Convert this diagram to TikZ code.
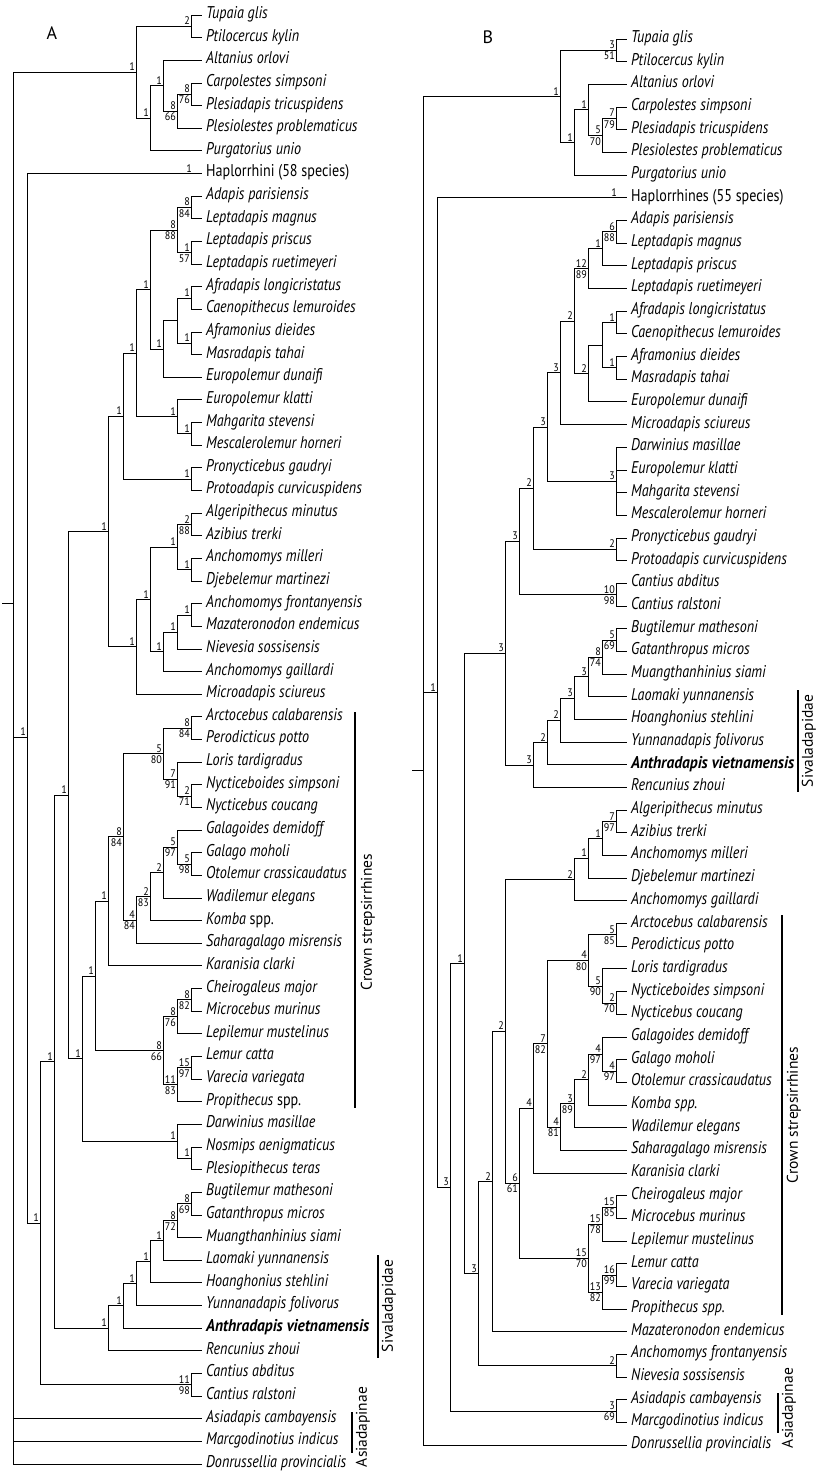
\documentclass[tikz,border=0pt]{standalone}
\usepackage{fontspec}
\setmainfont{PT Sans}
\newfontfamily\taxf[FakeStretch=0.83]{PT Sans}
\newfontfamily\taxb[FakeStretch=0.91]{PT Sans}
\newfontfamily\numf[FakeStretch=0.92]{PT Sans}
\usetikzlibrary{calc}
\tikzset{
  br/.style={line width=0.8pt,black},
  bk/.style={line width=1.2pt,black},
  leaf/.style={anchor=west,inner xsep=4pt,inner ysep=0pt,text height=0.7em,text depth=0pt,font=\taxf\itshape\fontsize{17}{17}\selectfont},
  supa/.style={anchor=south east,inner xsep=1pt,inner ysep=1.2pt,font=\numf\fontsize{11}{11}\selectfont},
  supb/.style={anchor=north east,inner xsep=1pt,inner ysep=1.6pt,font=\numf\fontsize{11}{11}\selectfont},
  clade/.style={rotate=90,anchor=center,inner sep=0pt,font=\fontsize{15.5}{15.5}\selectfont},
  panel/.style={inner sep=0pt,font=\fontsize{18}{18}\selectfont}
}
\newcommand\LA[3]{\node[leaf] (#1) at (202,{15+(#2-1)*22.64}) {#3};}
\newcommand\LB[3]{\node[leaf] (#1) at (627,{39+(#2-1)*22.68}) {#3};}
\newcommand\ND[4]{\path let \p1=($(#3)!0.5!(#4)$) in coordinate (#1) at (#2pt,\y1);}
\newcommand\EL[2]{\draw[br] (#1) |- (#2.west);}
\newcommand\EN[2]{\draw[br] (#1) |- (#2);}
\newcommand\SA[2]{\node[supa] (#1-a) at (#1) {#2};}
\newcommand\SB[2]{\node[supb] (#1-b) at (#1) {#2};}
\begin{document}
\begin{tikzpicture}[x=1pt,y=-1pt]
\useasboundingbox (0,0) rectangle (815,1473);
\node[panel] (pA) at (52,33) {A};
\node[panel] (pB) at (488,37) {B};
% ---------------- Tree A leaves
\LA{a1}{1}{Tupaia glis}
\LA{a2}{2}{Ptilocercus kylin}
\LA{a3}{3}{Altanius orlovi}
\LA{a4}{4}{Carpolestes simpsoni}
\LA{a5}{5}{Plesiadapis tricuspidens}
\LA{a6}{6}{Plesiolestes problematicus}
\LA{a7}{7}{Purgatorius unio}
\LA{a8}{8}{\upshape Haplorrhini (58 species)}
\LA{a9}{9}{Adapis parisiensis}
\LA{a10}{10}{Leptadapis magnus}
\LA{a11}{11}{Leptadapis priscus}
\LA{a12}{12}{Leptadapis ruetimeyeri}
\LA{a13}{13}{Afradapis longicristatus}
\LA{a14}{14}{Caenopithecus lemuroides}
\LA{a15}{15}{Aframonius dieides}
\LA{a16}{16}{Masradapis tahai}
\LA{a17}{17}{Europolemur dunaifi}
\LA{a18}{18}{Europolemur klatti}
\LA{a19}{19}{Mahgarita stevensi}
\LA{a20}{20}{Mescalerolemur horneri}
\LA{a21}{21}{Pronycticebus gaudryi}
\LA{a22}{22}{Protoadapis curvicuspidens}
\LA{a23}{23}{Algeripithecus minutus}
\LA{a24}{24}{Azibius trerki}
\LA{a25}{25}{Anchomomys milleri}
\LA{a26}{26}{Djebelemur martinezi}
\LA{a27}{27}{Anchomomys frontanyensis}
\LA{a28}{28}{Mazateronodon endemicus}
\LA{a29}{29}{Nievesia sossisensis}
\LA{a30}{30}{Anchomomys gaillardi}
\LA{a31}{31}{Microadapis sciureus}
\LA{a32}{32}{Arctocebus calabarensis}
\LA{a33}{33}{Perodicticus potto}
\LA{a34}{34}{Loris tardigradus}
\LA{a35}{35}{Nycticeboides simpsoni}
\LA{a36}{36}{Nycticebus coucang}
\LA{a37}{37}{Galagoides demidoff}
\LA{a38}{38}{Galago moholi}
\LA{a39}{39}{Otolemur crassicaudatus}
\LA{a40}{40}{Wadilemur elegans}
\LA{a41}{41}{Komba \upshape spp.}
\LA{a42}{42}{Saharagalago misrensis}
\LA{a43}{43}{Karanisia clarki}
\LA{a44}{44}{Cheirogaleus major}
\LA{a45}{45}{Microcebus murinus}
\LA{a46}{46}{Lepilemur mustelinus}
\LA{a47}{47}{Lemur catta}
\LA{a48}{48}{Varecia variegata}
\LA{a49}{49}{Propithecus \upshape spp.}
\LA{a50}{50}{Darwinius masillae}
\LA{a51}{51}{Nosmips aenigmaticus}
\LA{a52}{52}{Plesiopithecus teras}
\LA{a53}{53}{Bugtilemur mathesoni}
\LA{a54}{54}{Gatanthropus micros}
\LA{a55}{55}{Muangthanhinius siami}
\LA{a56}{56}{Laomaki yunnanensis}
\LA{a57}{57}{Hoanghonius stehlini}
\LA{a58}{58}{Yunnanadapis folivorus}
\LA{a59}{59}{\taxb\bfseries Anthradapis vietnamensis}
\LA{a60}{60}{Rencunius zhoui}
\LA{a61}{61}{Cantius abditus}
\LA{a62}{62}{Cantius ralstoni}
\LA{a63}{63}{Asiadapis cambayensis}
\LA{a64}{64}{Marcgodinotius indicus}
\LA{a65}{65}{Donrussellia provincialis}
% ---------------- Tree A internal nodes
\ND{an1}{191}{a1}{a2} \EL{an1}{a1}\EL{an1}{a2} \SA{an1}{2}
\ND{an2}{191}{a4}{a5} \EL{an2}{a4}\EL{an2}{a5} \SA{an2}{8}\SB{an2}{76}
\ND{an3}{177}{an2}{a6} \EN{an3}{an2}\EL{an3}{a6} \SA{an3}{8}\SB{an3}{66}
\ND{an4}{163}{a3}{an3} \EL{an4}{a3}\EN{an4}{an3} \SA{an4}{1}
\ND{an5}{150}{an4}{a7} \EN{an5}{an4}\EL{an5}{a7} \SA{an5}{1}
\ND{an6}{136}{an1}{an5} \EN{an6}{an1}\EN{an6}{an5} \SA{an6}{1}
\ND{ad}{191}{a9}{a10} \EL{ad}{a9}\EL{ad}{a10} \SA{ad}{8}\SB{ad}{84}
\ND{pr}{191}{a11}{a12} \EL{pr}{a11}\EL{pr}{a12} \SA{pr}{1}\SB{pr}{57}
\ND{p177}{177}{ad}{pr} \EN{p177}{ad}\EN{p177}{pr} \SA{p177}{8}\SB{p177}{88}
\ND{af}{191}{a13}{a14} \EL{af}{a13}\EL{af}{a14} \SA{af}{1}
\ND{am}{191}{a15}{a16} \EL{am}{a15}\EL{am}{a16} \SA{am}{1}
\ND{p177b}{177}{af}{am} \EN{p177b}{af}\EN{p177b}{am}
\ND{p163}{163}{p177b}{a17} \EN{p163}{p177b}\EL{p163}{a17} \SA{p163}{1}
\ND{p150}{150}{p177}{p163} \EN{p150}{p177}\EN{p150}{p163} \SA{p150}{1}
\ND{mh}{191}{a19}{a20} \EL{mh}{a19}\EL{mh}{a20} \SA{mh}{1}
\ND{p177c}{177}{a18}{mh} \EL{p177c}{a18}\EN{p177c}{mh} \SA{p177c}{1}
\ND{p136}{136}{p150}{p177c} \EN{p136}{p150}\EN{p136}{p177c} \SA{p136}{1}
\ND{pro}{191}{a21}{a22} \EL{pro}{a21}\EL{pro}{a22} \SA{pro}{1}
\ND{p123}{123}{p136}{pro} \EN{p123}{p136}\EN{p123}{pro} \SA{p123}{1}
\ND{alg}{191}{a23}{a24} \EL{alg}{a23}\EL{alg}{a24} \SA{alg}{2}\SB{alg}{88}
\ND{anm}{191}{a25}{a26} \EL{anm}{a25}\EL{anm}{a26} \SA{anm}{1}
\ND{p177d}{177}{alg}{anm} \EN{p177d}{alg}\EN{p177d}{anm} \SA{p177d}{1}
\ND{fr}{191}{a27}{a28} \EL{fr}{a27}\EL{fr}{a28} \SA{fr}{1}
\ND{p177e}{177}{fr}{a29} \EN{p177e}{fr}\EL{p177e}{a29} \SA{p177e}{1}
\ND{p163b}{163}{p177e}{a30} \EN{p163b}{p177e}\EL{p163b}{a30} \SA{p163b}{1}
\ND{p150b}{150}{p177d}{p163b} \EN{p150b}{p177d}\EN{p150b}{p163b} \SA{p150b}{1}
\ND{p136b}{136}{p150b}{a31} \EN{p136b}{p150b}\EL{p136b}{a31} \SA{p136b}{1}
\ND{p108}{108}{p123}{p136b} \EN{p108}{p123}\EN{p108}{p136b} \SA{p108}{1}
\ND{arc}{191}{a32}{a33} \EL{arc}{a32}\EL{arc}{a33} \SA{arc}{8}\SB{arc}{84}
\ND{nyc}{191}{a35}{a36} \EL{nyc}{a35}\EL{nyc}{a36} \SA{nyc}{2}\SB{nyc}{71}
\ND{p177g}{177}{a34}{nyc} \EL{p177g}{a34}\EN{p177g}{nyc} \SA{p177g}{7}\SB{p177g}{91}
\ND{p163c}{163}{arc}{p177g} \EN{p163c}{arc}\EN{p163c}{p177g} \SA{p163c}{5}\SB{p163c}{80}
\ND{gal}{191}{a38}{a39} \EL{gal}{a38}\EL{gal}{a39} \SA{gal}{5}\SB{gal}{98}
\ND{p177h}{177}{a37}{gal} \EL{p177h}{a37}\EN{p177h}{gal} \SA{p177h}{5}\SB{p177h}{97}
\ND{p163d}{163}{p177h}{a40} \EN{p163d}{p177h}\EL{p163d}{a40} \SA{p163d}{2}
\ND{p150c}{150}{p163d}{a41} \EN{p150c}{p163d}\EL{p150c}{a41} \SA{p150c}{2}\SB{p150c}{83}
\ND{p136c}{136}{p150c}{a42} \EN{p136c}{p150c}\EL{p136c}{a42} \SA{p136c}{4}\SB{p136c}{84}
\ND{p123b}{123}{p163c}{p136c} \EN{p123b}{p163c}\EN{p123b}{p136c} \SA{p123b}{8}\SB{p123b}{84}
\ND{p108b}{108}{p123b}{a43} \EN{p108b}{p123b}\EL{p108b}{a43} \SA{p108b}{1}
\ND{che}{191}{a44}{a45} \EL{che}{a44}\EL{che}{a45} \SA{che}{8}\SB{che}{82}
\ND{p177i}{177}{che}{a46} \EN{p177i}{che}\EL{p177i}{a46} \SA{p177i}{8}\SB{p177i}{76}
\ND{lc}{191}{a47}{a48} \EL{lc}{a47}\EL{lc}{a48} \SA{lc}{15}\SB{lc}{97}
\ND{p177j}{177}{lc}{a49} \EN{p177j}{lc}\EL{p177j}{a49} \SA{p177j}{11}\SB{p177j}{83}
\ND{lem}{163}{p177i}{p177j} \EN{lem}{p177i}\EN{lem}{p177j} \SA{lem}{8}\SB{lem}{66}
\ND{p95}{95}{p108b}{lem} \EN{p95}{p108b}\EN{p95}{lem} \SA{p95}{1}
\ND{nos}{191}{a51}{a52} \EL{nos}{a51}\EL{nos}{a52} \SA{nos}{1}
\ND{dar}{177}{a50}{nos} \EL{dar}{a50}\EN{dar}{nos} \SA{dar}{1}
\ND{p82}{82}{p95}{dar} \EN{p82}{p95}\EN{p82}{dar} \SA{p82}{1}
\ND{p68}{68}{p108}{p82} \EN{p68}{p108}\EN{p68}{p82} \SA{p68}{1}
\ND{bug}{191}{a53}{a54} \EL{bug}{a53}\EL{bug}{a54} \SA{bug}{8}\SB{bug}{69}
\ND{s177}{177}{bug}{a55} \EN{s177}{bug}\EL{s177}{a55} \SA{s177}{8}\SB{s177}{72}
\ND{s163}{163}{s177}{a56} \EN{s163}{s177}\EL{s163}{a56} \SA{s163}{1}
\ND{s150}{150}{s163}{a57} \EN{s150}{s163}\EL{s150}{a57} \SA{s150}{1}
\ND{s136}{136}{s150}{a58} \EN{s136}{s150}\EL{s136}{a58} \SA{s136}{1}
\ND{s123}{123}{s136}{a59} \EN{s123}{s136}\EL{s123}{a59} \SA{s123}{1}
\ND{siv}{108}{s123}{a60} \EN{siv}{s123}\EL{siv}{a60} \SA{siv}{1}
\ND{p54}{54}{p68}{siv} \EN{p54}{p68}\EN{p54}{siv} \SA{p54}{1}
\ND{cant}{191}{a61}{a62} \EL{cant}{a61}\EL{cant}{a62} \SA{cant}{11}\SB{cant}{98}
\ND{p40}{40}{p54}{cant} \EN{p40}{p54}\EN{p40}{cant} \SA{p40}{1}
\coordinate (p27) at (27,737);
\EL{p27}{a8}\EN{p27}{p40} \SA{p27}{1}
\node[supa,xshift=-9pt] (a8-a) at (a8.west) {1};
\coordinate (rA) at (13,603);
\coordinate (rAt) at (2,603);
\draw[br] (rAt) -- (rA);
\EN{rA}{an6}\EN{rA}{p27}\EL{rA}{a63}\EL{rA}{a64}\EL{rA}{a65}
% clade bars A
\coordinate (aCS1) at (355,712); \coordinate (aCS2) at (355,1108);
\draw[bk] (aCS1) -- (aCS2);
\node[clade] (aCS) at (368,922) {Crown strepsirrhines};
\coordinate (aSV1) at (378,1255); \coordinate (aSV2) at (378,1358);
\draw[bk] (aSV1) -- (aSV2);
\node[clade] (aSV) at (389,1306) {Sivaladapidae};
\coordinate (aAS1) at (352,1412); \coordinate (aAS2) at (352,1453);
\draw[bk] (aAS1) -- (aAS2);
\node[clade] (aAS) at (363,1427) {Asiadapinae};
% ---------------- Tree B leaves
\LB{b1}{1}{Tupaia glis}
\LB{b2}{2}{Ptilocercus kylin}
\LB{b3}{3}{Altanius orlovi}
\LB{b4}{4}{Carpolestes simpsoni}
\LB{b5}{5}{Plesiadapis tricuspidens}
\LB{b6}{6}{Plesiolestes problematicus}
\LB{b7}{7}{Purgatorius unio}
\LB{b8}{8}{\upshape Haplorrhines (55 species)}
\LB{b9}{9}{Adapis parisiensis}
\LB{b10}{10}{Leptadapis magnus}
\LB{b11}{11}{Leptadapis priscus}
\LB{b12}{12}{Leptadapis ruetimeyeri}
\LB{b13}{13}{Afradapis longicristatus}
\LB{b14}{14}{Caenopithecus lemuroides}
\LB{b15}{15}{Aframonius dieides}
\LB{b16}{16}{Masradapis tahai}
\LB{b17}{17}{Europolemur dunaifi}
\LB{b18}{18}{Microadapis sciureus}
\LB{b19}{19}{Darwinius masillae}
\LB{b20}{20}{Europolemur klatti}
\LB{b21}{21}{Mahgarita stevensi}
\LB{b22}{22}{Mescalerolemur horneri}
\LB{b23}{23}{Pronycticebus gaudryi}
\LB{b24}{24}{Protoadapis curvicuspidens}
\LB{b25}{25}{Cantius abditus}
\LB{b26}{26}{Cantius ralstoni}
\LB{b27}{27}{Bugtilemur mathesoni}
\LB{b28}{28}{Gatanthropus micros}
\LB{b29}{29}{Muangthanhinius siami}
\LB{b30}{30}{Laomaki yunnanensis}
\LB{b31}{31}{Hoanghonius stehlini}
\LB{b32}{32}{Yunnanadapis folivorus}
\LB{b33}{33}{\taxb\bfseries Anthradapis vietnamensis}
\LB{b34}{34}{Rencunius zhoui}
\LB{b35}{35}{Algeripithecus minutus}
\LB{b36}{36}{Azibius trerki}
\LB{b37}{37}{Anchomomys milleri}
\LB{b38}{38}{Djebelemur martinezi}
\LB{b39}{39}{Anchomomys gaillardi}
\LB{b40}{40}{Arctocebus calabarensis}
\LB{b41}{41}{Perodicticus potto}
\LB{b42}{42}{Loris tardigradus}
\LB{b43}{43}{Nycticeboides simpsoni}
\LB{b44}{44}{Nycticebus coucang}
\LB{b45}{45}{Galagoides demidoff}
\LB{b46}{46}{Galago moholi}
\LB{b47}{47}{Otolemur crassicaudatus}
\LB{b48}{48}{Komba spp.}
\LB{b49}{49}{Wadilemur elegans}
\LB{b50}{50}{Saharagalago misrensis}
\LB{b51}{51}{Karanisia clarki}
\LB{b52}{52}{Cheirogaleus major}
\LB{b53}{53}{Microcebus murinus}
\LB{b54}{54}{Lepilemur mustelinus}
\LB{b55}{55}{Lemur catta}
\LB{b56}{56}{Varecia variegata}
\LB{b57}{57}{Propithecus spp.}
\LB{b58}{58}{Mazateronodon endemicus}
\LB{b59}{59}{Anchomomys frontanyensis}
\LB{b60}{60}{Nievesia sossisensis}
\LB{b61}{61}{Asiadapis cambayensis}
\LB{b62}{62}{Marcgodinotius indicus}
\LB{b63}{63}{Donrussellia provincialis}
% ---------------- Tree B internal nodes
\ND{bt}{616}{b1}{b2} \EL{bt}{b1}\EL{bt}{b2} \SA{bt}{3}\SB{bt}{51}
\ND{bcp}{616}{b4}{b5} \EL{bcp}{b4}\EL{bcp}{b5} \SA{bcp}{7}\SB{bcp}{79}
\ND{bpl}{602}{bcp}{b6} \EN{bpl}{bcp}\EL{bpl}{b6} \SA{bpl}{5}\SB{bpl}{70}
\ND{bal}{588}{b3}{bpl} \EL{bal}{b3}\EN{bal}{bpl} \SA{bal}{1}
\ND{bpu}{574}{bal}{b7} \EN{bpu}{bal}\EL{bpu}{b7} \SA{bpu}{1}
\ND{bout}{560}{bt}{bpu} \EN{bout}{bt}\EN{bout}{bpu} \SA{bout}{1}
\ND{bad}{616}{b9}{b10} \EL{bad}{b9}\EL{bad}{b10} \SA{bad}{6}\SB{bad}{88}
\ND{b602c}{602}{bad}{b11} \EN{b602c}{bad}\EL{b602c}{b11} \SA{b602c}{1}
\ND{b588a}{588}{b602c}{b12} \EN{b588a}{b602c}\EL{b588a}{b12} \SA{b588a}{12}\SB{b588a}{89}
\ND{baf}{616}{b13}{b14} \EL{baf}{b13}\EL{baf}{b14} \SA{baf}{1}
\ND{bam}{616}{b15}{b16} \EL{bam}{b15}\EL{bam}{b16} \SA{bam}{1}
\ND{b602d}{602}{baf}{bam} \EN{b602d}{baf}\EN{b602d}{bam}
\ND{b588c}{588}{b602d}{b17} \EN{b588c}{b602d}\EL{b588c}{b17} \SA{b588c}{2}
\ND{b573}{574}{b588a}{b588c} \EN{b573}{b588a}\EN{b573}{b588c} \SA{b573}{2}
\ND{b560}{560}{b573}{b18} \EN{b560}{b573}\EL{b560}{b18} \SA{b560}{3}
\ND{bdar}{616}{b19}{b22} \EL{bdar}{b19}\EL{bdar}{b20}\EL{bdar}{b21}\EL{bdar}{b22} \SA{bdar}{3}
\ND{b547}{547}{b560}{bdar} \EN{b547}{b560}\EN{b547}{bdar} \SA{b547}{3}
\ND{bpro}{616}{b23}{b24} \EL{bpro}{b23}\EL{bpro}{b24} \SA{bpro}{2}
\ND{b533}{533}{b547}{bpro} \EN{b533}{b547}\EN{b533}{bpro} \SA{b533}{2}
\ND{bcant}{616}{b25}{b26} \EL{bcant}{b25}\EL{bcant}{b26} \SA{bcant}{10}\SB{bcant}{98}
\ND{b519}{519}{b533}{bcant} \EN{b519}{b533}\EN{b519}{bcant} \SA{b519}{3}
\ND{bbug}{616}{b27}{b28} \EL{bbug}{b27}\EL{bbug}{b28} \SA{bbug}{5}\SB{bbug}{69}
\ND{bs602}{602}{bbug}{b29} \EN{bs602}{bbug}\EL{bs602}{b29} \SA{bs602}{8}\SB{bs602}{74}
\ND{bs588}{588}{bs602}{b30} \EN{bs588}{bs602}\EL{bs588}{b30} \SA{bs588}{3}
\ND{bs574}{574}{bs588}{b31} \EN{bs574}{bs588}\EL{bs574}{b31} \SA{bs574}{3}
\ND{bs560}{560}{bs574}{b32} \EN{bs560}{bs574}\EL{bs560}{b32} \SA{bs560}{2}
\ND{bs547}{547}{bs560}{b33} \EN{bs547}{bs560}\EL{bs547}{b33} \SA{bs547}{2}
\ND{bsiv}{533}{bs547}{b34} \EN{bsiv}{bs547}\EL{bsiv}{b34} \SA{bsiv}{3}
\ND{b505}{505}{b519}{bsiv} \EN{b505}{b519}\EN{b505}{bsiv} \SA{b505}{3}
\ND{balg1}{616}{b35}{b36} \EL{balg1}{b35}\EL{balg1}{b36} \SA{balg1}{7}\SB{balg1}{97}
\ND{balg2}{602}{balg1}{b37} \EN{balg2}{balg1}\EL{balg2}{b37} \SA{balg2}{1}
\ND{balg3}{588}{balg2}{b38} \EN{balg3}{balg2}\EL{balg3}{b38} \SA{balg3}{1}
\ND{balg4}{574}{balg3}{b39} \EN{balg4}{balg3}\EL{balg4}{b39} \SA{balg4}{2}
\ND{barc}{616}{b40}{b41} \EL{barc}{b40}\EL{barc}{b41} \SA{barc}{5}\SB{barc}{85}
\ND{bnyc}{616}{b43}{b44} \EL{bnyc}{b43}\EL{bnyc}{b44} \SA{bnyc}{2}\SB{bnyc}{70}
\ND{b602b}{602}{b42}{bnyc} \EL{b602b}{b42}\EN{b602b}{bnyc} \SA{b602b}{5}\SB{b602b}{90}
\ND{b588b}{588}{barc}{b602b} \EN{b588b}{barc}\EN{b588b}{b602b} \SA{b588b}{4}\SB{b588b}{80}
\ND{bgal}{616}{b46}{b47} \EL{bgal}{b46}\EL{bgal}{b47} \SA{bgal}{4}\SB{bgal}{97}
\ND{b602k}{602}{b45}{bgal} \EL{b602k}{b45}\EN{b602k}{bgal} \SA{b602k}{4}\SB{b602k}{97}
\ND{b588k}{588}{b602k}{b48} \EN{b588k}{b602k}\EL{b588k}{b48} \SA{b588k}{2}
\ND{b574k}{574}{b588k}{b49} \EN{b574k}{b588k}\EL{b574k}{b49} \SA{b574k}{3}\SB{b574k}{89}
\ND{b560k}{560}{b574k}{b50} \EN{b560k}{b574k}\EL{b560k}{b50} \SA{b560k}{4}\SB{b560k}{81}
\ND{b547b}{547}{b588b}{b560k} \EN{b547b}{b588b}\EN{b547b}{b560k} \SA{b547b}{7}\SB{b547b}{82}
\ND{b533b}{533}{b547b}{b51} \EN{b533b}{b547b}\EL{b533b}{b51} \SA{b533b}{4}
\ND{bche}{616}{b52}{b53} \EL{bche}{b52}\EL{bche}{b53} \SA{bche}{15}\SB{bche}{85}
\ND{b602L}{602}{bche}{b54} \EN{b602L}{bche}\EL{b602L}{b54} \SA{b602L}{15}\SB{b602L}{78}
\ND{blc}{616}{b55}{b56} \EL{blc}{b55}\EL{blc}{b56} \SA{blc}{16}\SB{blc}{99}
\ND{b602M}{602}{blc}{b57} \EN{b602M}{blc}\EL{b602M}{b57} \SA{b602M}{13}\SB{b602M}{82}
\ND{blem}{588}{b602L}{b602M} \EN{blem}{b602L}\EN{blem}{b602M} \SA{blem}{15}\SB{blem}{70}
\ND{b519b}{519}{b533b}{blem} \EN{b519b}{b533b}\EN{b519b}{blem} \SA{b519b}{6}\SB{b519b}{61}
\ND{b505b}{505}{balg4}{b519b} \EN{b505b}{balg4}\EN{b505b}{b519b} \SA{b505b}{2}
\ND{b492}{492}{b505b}{b58} \EN{b492}{b505b}\EL{b492}{b58} \SA{b492}{2}
\ND{banf}{616}{b59}{b60} \EL{banf}{b59}\EL{banf}{b60} \SA{banf}{2}
\ND{b478}{478}{b492}{banf} \EN{b478}{b492}\EN{b478}{banf} \SA{b478}{3}
\ND{b464}{464}{b505}{b478} \EN{b464}{b505}\EN{b464}{b478} \SA{b464}{1}
\ND{basi}{616}{b61}{b62} \EL{basi}{b61}\EL{basi}{b62} \SA{basi}{3}\SB{basi}{69}
\ND{b450}{450}{b464}{basi} \EN{b450}{b464}\EN{b450}{basi} \SA{b450}{3}
\ND{b437}{437}{b8}{b450} \EL{b437}{b8}\EN{b437}{b450} \SA{b437}{1}
\node[supa,xshift=-9pt] (b8-a) at (b8.west) {1};
\ND{rB}{423}{bout}{b63}
\path let \p1=(rB) in coordinate (rBt) at (412pt,\y1);
\draw[br] (rBt) -- (rB);
\EN{rB}{bout}\EN{rB}{b437}\EL{rB}{b63}
% clade bars B
\coordinate (bSV1) at (798,690); \coordinate (bSV2) at (798,792);
\draw[bk] (bSV1) -- (bSV2);
\node[clade] (bSV) at (809,741) {Sivaladapidae};
\coordinate (bCS1) at (782,915); \coordinate (bCS2) at (782,1315);
\draw[bk] (bCS1) -- (bCS2);
\node[clade] (bCS) at (794,1115) {Crown strepsirrhines};
\coordinate (bAS1) at (778,1393); \coordinate (bAS2) at (778,1433);
\draw[bk] (bAS1) -- (bAS2);
\node[clade] (bAS) at (789,1408) {Asiadapinae};
\end{tikzpicture}
\end{document}
